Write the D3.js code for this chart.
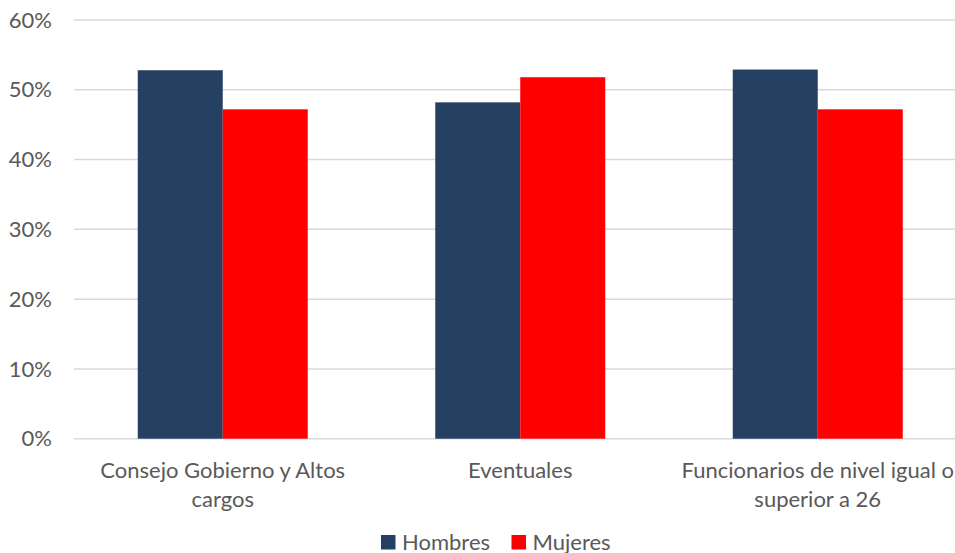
<!DOCTYPE html>
<html><head><meta charset="utf-8">
<script src="https://cdn.jsdelivr.net/npm/d3@7"></script>
<style>body{margin:0;background:#fff;}svg{display:block;font-family:Lato,"Open Sans",sans-serif;}</style>
</head><body>
<svg id="c" width="955" height="553"></svg>
<script>
const categories = [["Consejo Gobierno y Altos","cargos"],["Eventuales"],["Funcionarios de nivel igual o","superior a 26"]];
const seriesNames = ["Hombres","Mujeres"];
const hombres = [0.528, 0.482, 0.529];
const mujeres = [0.472, 0.518, 0.472];
const yTicks = [0,0.1,0.2,0.3,0.4,0.5,0.6];
const colors = ["#264061","#FF0000"];

(function(){
const svg = d3.select("#c");
const mLeft = 74, mRight = 966.5, mTop = 20, mBottom = 438.7;
const fs = 22;
const x = d3.scaleBand().domain(d3.range(categories.length)).range([mLeft,mRight]).paddingInner(0).paddingOuter(0);
const y = d3.scaleLinear().domain([0,0.6]).range([mBottom,mTop]);
const bw = 85;

svg.append("g").selectAll("line").data(yTicks).join("line")
  .attr("x1",mLeft).attr("x2",mRight).attr("y1",d=>y(d)).attr("y2",d=>y(d))
  .attr("stroke","#d9d9d9").attr("stroke-width",1.5);

svg.append("g").selectAll("text").data(yTicks).join("text")
  .attr("x",52).attr("y",d=>y(d)).attr("dy","0.35em").attr("text-anchor","end")
  .attr("fill","#595959").attr("font-size",fs).text(d=>d3.format(".0%")(d));

const series = [hombres, mujeres];
series.forEach((vals,si)=>{
  svg.append("g").selectAll("rect").data(vals).join("rect")
    .attr("x",(d,i)=>x(i)+x.bandwidth()/2 - bw + si*bw)
    .attr("width",bw)
    .attr("y",d=>y(d)).attr("height",d=>mBottom-y(d))
    .attr("fill",colors[si]);
});

categories.forEach((lines,i)=>{
  const t = svg.append("text").attr("text-anchor","middle").attr("fill","#595959").attr("font-size",fs);
  lines.forEach((l,j)=>{
    t.append("tspan").attr("x",x(i)+x.bandwidth()/2).attr("y",478+j*28.5).text(l);
  });
});

const legX = [381, 511.5];
seriesNames.forEach((n,i)=>{
  svg.append("rect").attr("x",legX[i]).attr("y",535).attr("width",14.5).attr("height",14.5).attr("fill",colors[i]);
  svg.append("text").attr("x",legX[i]+21).attr("y",549.5).attr("fill","#595959").attr("font-size",fs).text(n);
});
})();
</script>
</body></html>
